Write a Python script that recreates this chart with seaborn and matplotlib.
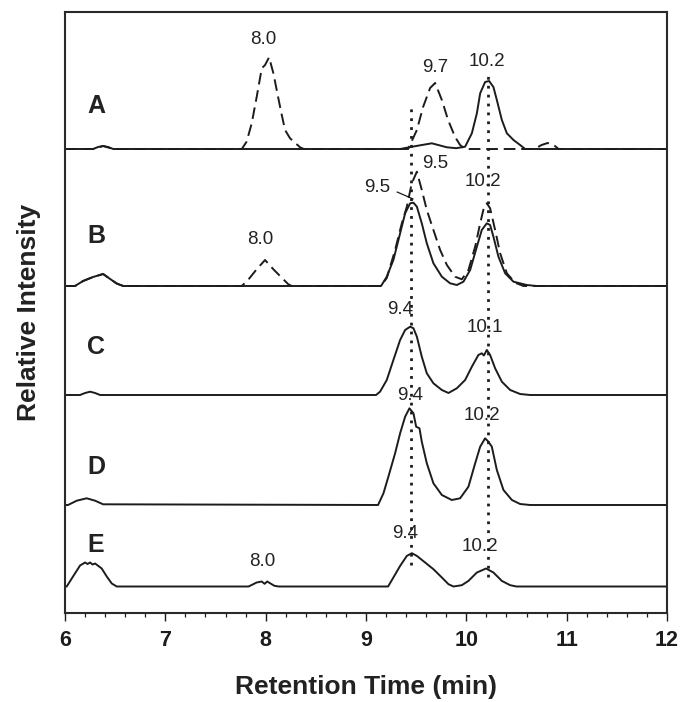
import numpy as np
import pandas as pd
import matplotlib
matplotlib.use("Agg")
import matplotlib.pyplot as plt
from matplotlib.ticker import MultipleLocator
import seaborn as sns

# Chromatogram traces: retention time (min) and
# intensity above each trace's own baseline (arbitrary units)
a_solid_t = [6.0, 6.28, 6.33, 6.38, 6.43, 6.48, 9.34, 9.5, 9.656, 9.806, 9.9, 9.988,
             10.055, 10.105, 10.138, 10.187, 10.227, 10.27, 10.304, 10.354, 10.404,
             10.47, 10.536, 10.586, 12.0]
a_solid_h = [0, 0, 2, 3, 2, 0, 0, 3, 5.7, 1.7, 0.8, 2.3,
             15.7, 35.7, 55.7, 67, 68, 62, 49, 29, 15.7,
             9, 4, 0, 0]

a_dash_t = [6.0, 6.28, 6.38, 6.48, 7.762, 7.81, 7.861, 7.911, 7.961, 7.994, 8.034, 8.077,
            8.11, 8.15, 8.193, 8.243, 8.343, 8.38, 9.42, 9.507, 9.569, 9.639, 9.689,
            9.756, 9.818, 9.888, 9.938, 9.988, 10.68, 10.75, 10.81, 10.87, 10.92, 12.0]
a_dash_h = [0, 0, 3, 0, 0, 7.3, 25.7, 52.3, 80.7, 84, 91.7, 75.7,
            59, 39, 19, 10.7, 1.7, 0, 0, 19, 42, 61, 66,
            49, 29, 12, 4, 0, 0, 4, 6, 4, 0, 0]

b_solid_t = [6.0, 6.1, 6.18, 6.28, 6.38, 6.45, 6.515, 6.58, 9.15, 9.207, 9.273, 9.34,
             9.39, 9.44, 9.473, 9.507, 9.556, 9.606, 9.672, 9.756, 9.838, 9.905, 9.971,
             10.038, 10.105, 10.154, 10.204, 10.237, 10.27, 10.32, 10.387, 10.47, 10.603,
             10.70, 12.0]
b_solid_h = [0, 0, 5, 9, 12, 7, 2.5, 0, 0, 9.3, 26, 52.7,
             72.7, 82.7, 83.3, 79.3, 62.7, 42.7, 22.7, 9.3, 2.7, 1, 4.3,
             16, 39.3, 56, 62.7, 61, 49.3, 29.3, 12.7, 4.3, 1,
             0, 0]

b_dash_t = [6.0, 6.1, 6.18, 6.28, 6.38, 6.45, 6.515, 6.58, 7.762, 7.83, 7.91, 7.994,
            8.077, 8.16, 8.226, 8.26, 9.15, 9.207, 9.29, 9.357, 9.407, 9.456, 9.507,
            9.556, 9.606, 9.672, 9.739, 9.806, 9.888, 9.955, 10.021, 10.088, 10.138,
            10.177, 10.204, 10.237, 10.287, 10.337, 10.404, 10.486, 10.57, 12.0]
b_dash_h = [0, 0, 5, 9, 12, 7, 2.5, 0, 0, 6.7, 16.7, 26,
            16.7, 8.3, 1.7, 0, 0, 8, 36, 62.7, 79.3, 102.7, 114.3,
            96, 76, 56, 36, 21, 9.3, 6.7, 16, 39.3, 62.7,
            79.3, 82.7, 77.7, 56, 32.7, 12.7, 3.3, 0, 0]

c_solid_t = [6.0, 6.15, 6.2, 6.25, 6.3, 6.35, 9.1, 9.14, 9.207, 9.273, 9.34, 9.39,
             9.44, 9.473, 9.507, 9.556, 9.606, 9.672, 9.756, 9.822, 9.905, 9.988,
             10.055, 10.12, 10.154, 10.175, 10.204, 10.237, 10.287, 10.354, 10.437,
             10.536, 10.636, 12.0]
c_solid_h = [0, 0, 2, 3.3, 2, 0, 0, 3.3, 15, 35, 55, 65,
             68.3, 66.7, 58.3, 38.3, 21.7, 11.7, 5, 2, 6.7, 15,
             28.3, 40, 41.7, 39.5, 45, 40, 26.7, 13.3, 5,
             1, 0, 0]

d_solid_t = [6.0, 6.03, 6.117, 6.216, 6.3, 6.38, 9.12, 9.174, 9.223, 9.29, 9.34, 9.39,
             9.433, 9.473, 9.50, 9.533, 9.556, 9.606, 9.672, 9.756, 9.855, 9.938,
             10.021, 10.088, 10.138, 10.187, 10.22, 10.254, 10.304, 10.37, 10.454,
             10.536, 10.636, 12.0]
d_solid_h = [0, 0, 4.3, 6.7, 4.3, 0.7, 0, 11.7, 28.3, 51.7, 71.7, 88.3,
             96.7, 91.7, 78.3, 76.7, 63.3, 41.7, 21.7, 10, 5, 6.7,
             18.3, 41.7, 58.3, 66.7, 63.3, 58.3, 35, 15, 5,
             1, 0, 0]

e_solid_t = [6.0, 6.017, 6.08, 6.15, 6.2, 6.225, 6.25, 6.275, 6.3, 6.366, 6.416, 6.466,
             6.516, 7.83, 7.91, 7.96, 7.99, 8.015, 8.087, 8.13, 9.22, 9.273, 9.34,
             9.407, 9.457, 9.507, 9.589, 9.672, 9.756, 9.822, 9.872, 9.955, 10.021,
             10.105, 10.197, 10.27, 10.354, 10.437, 10.50, 12.0]
e_solid_h = [0, 0, 10, 21, 24, 22.5, 24, 22, 23, 18, 10, 3,
             0, 0, 4, 5, 2.7, 5, 0.7, 0, 0, 9, 20.6,
             30.6, 33.3, 30.6, 24, 17.3, 9, 2.3, 0, 1.3, 5.6,
             14, 18, 14, 5.6, 1.3, 0, 0]

panels = ["A", "B", "C", "D", "E"]
# peak labels and the panel each belongs to
peak_text = ["8.0", "9.7", "10.2", "9.5", "9.5", "10.2", "8.0", "9.4", "10.1",
             "9.4", "10.2", "9.4", "10.2", "8.0"]
peak_panel = ["A", "A", "A", "B", "B", "B", "B", "C", "C", "D", "D", "E", "E", "E"]

# dotted guide lines at the two main retention times
guide_t = [9.45, 10.22]

# ---- layout ----
baseline = {"A": 464, "B": 327, "C": 218, "D": 108, "E": 26.5}
label_xy = [(7.974, 109), (9.689, 81), (10.21, 87), (9.689, 123), (9.108, 99),
            (10.17, 105), (7.944, 47), (9.34, 86), (10.187, 67), (9.44, 110),
            (10.154, 90), (9.39, 53), (10.138, 40), (7.968, 25)]
guide_low = [48, 36]
guide_high = [510, 539]

sns.set_style("ticks")
plt.rcParams["font.family"] = ["Liberation Sans", "DejaVu Sans"]
ink = "#1c1c1c"

fig = plt.figure(figsize=(6.81, 7.02), dpi=100)
ax = fig.add_axes([65 / 681, 89 / 702, 602 / 681, 601 / 702])

traces = [
    ("A", a_solid_t, a_solid_h, "-"),
    ("A", a_dash_t, a_dash_h, (0, (6, 3))),
    ("B", b_solid_t, b_solid_h, "-"),
    ("B", b_dash_t, b_dash_h, (0, (6, 3))),
    ("C", c_solid_t, c_solid_h, "-"),
    ("D", d_solid_t, d_solid_h, "-"),
    ("E", e_solid_t, e_solid_h, "-"),
]
for panel, t, h, ls in traces:
    df = pd.DataFrame({"time": t, "intensity": np.array(h) + baseline[panel]})
    sns.lineplot(data=df, x="time", y="intensity", ax=ax, color=ink, lw=1.4,
                 linestyle=ls, estimator=None, legend=False)

ax.vlines(guide_t, guide_low, guide_high, colors=ink, lw=2.0,
          linestyles=[(0, (1, 2.2))])

for txt, p, (x, y) in zip(peak_text, peak_panel, label_xy):
    ax.text(x, baseline[p] + y, txt, ha="center", va="center", fontsize=13.5, color="#222222")

# pointer from the left "9.5" label to the solid B peak
ax.plot([9.31, 9.47], [baseline["B"] + 94, baseline["B"] + 87], color=ink, lw=0.9)

letter_y = [43, 50, 48, 38, 42]
for p, dy in zip(panels, letter_y):
    ax.text(6.31, baseline[p] + dy, p, ha="center", va="center", fontsize=18,
            fontweight="bold", color="#222222")

ax.set_xlim(6, 12)
ax.set_ylim(0, 601)
ax.xaxis.set_major_locator(MultipleLocator(1))
ax.xaxis.set_minor_locator(MultipleLocator(0.2))
ax.tick_params(axis="x", which="major", direction="out", length=6, width=1.0,
               pad=6, labelsize=15.5, colors=ink)
ax.tick_params(axis="x", which="minor", direction="out", length=3, width=0.9, colors=ink)
ax.set_yticks([])
for lab in ax.get_xticklabels():
    lab.set_fontweight("bold")
for s in ax.spines.values():
    s.set_visible(True)
    s.set_linewidth(1.5)
    s.set_color("#2a2a2a")

ax.set_xlabel("Retention Time (min)", fontsize=19, fontweight="bold", color="#222222")
ax.set_ylabel("Relative Intensity", fontsize=19, fontweight="bold", color="#222222")
ax.xaxis.set_label_coords(0.5, -0.103)
ax.yaxis.set_label_coords(-0.04, 0.5)

fig.savefig("out.png", dpi=100)
